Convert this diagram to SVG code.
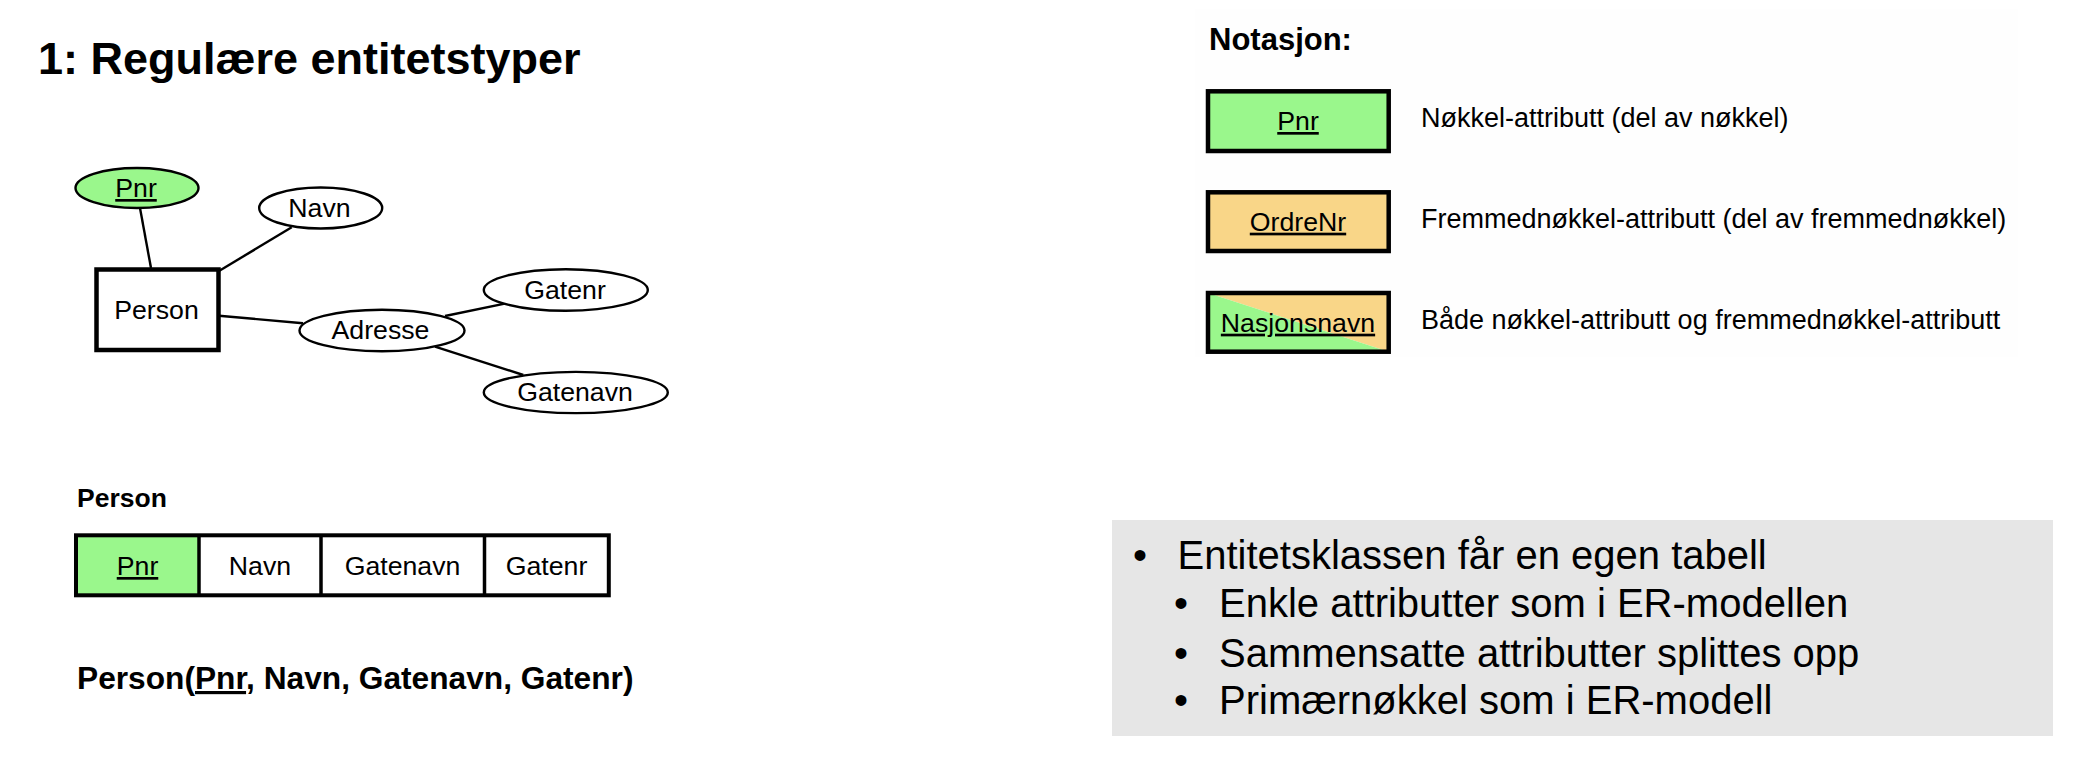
<svg xmlns="http://www.w3.org/2000/svg" width="2080" height="758" viewBox="0 0 2080 758">
<style>
text { font-family: "Liberation Sans", Arial, Helvetica, sans-serif; fill: #000; }
.t { font-size: 26.7px; text-anchor: middle; }
.b { font-weight: bold; }
.u { text-decoration: underline; }
.desc { font-size: 27px; }
.bul { font-size: 40px; }
.attr { fill: #fff; stroke: #000; stroke-width: 2.4; }
.key { fill: #9af78c; }
.fk { fill: #f9d688; }
.ent { fill: #fff; stroke: #000; stroke-width: 4.5; }
.conn line { stroke: #000; stroke-width: 2.4; }
.box { fill: none; stroke: #000; stroke-width: 4.5; }
</style>
<rect x="0" y="0" width="2080" height="758" fill="#fff"/>

<text x="38" y="74" class="b" font-size="45">1: Regulære entitetstyper</text>

<g id="connectors" class="conn">
  <line x1="140" y1="208" x2="151" y2="268"/>
  <line x1="291.7" y1="227.3" x2="219" y2="271"/>
  <line x1="219" y1="315.7" x2="303" y2="323.3"/>
  <line x1="445" y1="316" x2="506" y2="303.3"/>
  <line x1="435" y1="346.7" x2="523.3" y2="375"/>
</g>

<g id="pnr">
  <ellipse cx="137" cy="188" rx="61.5" ry="20" class="attr key"/>
  <text x="136" y="197" class="t u">Pnr</text>
</g>
<g id="navn">
  <ellipse cx="320.7" cy="208" rx="61.5" ry="20.5" class="attr"/>
  <text x="319.5" y="216.5" class="t">Navn</text>
</g>
<g id="person">
  <rect x="96.5" y="269.5" width="122" height="80.5" class="ent"/>
  <text x="156.5" y="319" class="t">Person</text>
</g>
<g id="adresse">
  <ellipse cx="382" cy="330.5" rx="82.5" ry="20.8" class="attr"/>
  <text x="380.5" y="339" class="t">Adresse</text>
</g>
<g id="gatenr">
  <ellipse cx="565.8" cy="290" rx="82" ry="20.8" class="attr"/>
  <text x="565" y="298.5" class="t">Gatenr</text>
</g>
<g id="gatenavn">
  <ellipse cx="575.8" cy="392.5" rx="92" ry="20.6" class="attr"/>
  <text x="575" y="401" class="t">Gatenavn</text>
</g>

<g id="table">
  <text x="77" y="507" class="b" font-size="26.5">Person</text>
  <rect x="76" y="535.3" width="123" height="60" class="key"/>
  <rect x="76" y="535.3" width="532.8" height="60" fill="none" stroke="#000" stroke-width="4"/>
  <line x1="199" y1="535.3" x2="199" y2="595.3" stroke="#000" stroke-width="3.5"/>
  <line x1="321" y1="535.3" x2="321" y2="595.3" stroke="#000" stroke-width="3.5"/>
  <line x1="484.5" y1="535.3" x2="484.5" y2="595.3" stroke="#000" stroke-width="3.5"/>
  <text x="137.5" y="575" class="t u">Pnr</text>
  <text x="260" y="575" class="t">Navn</text>
  <text x="402.5" y="575" class="t">Gatenavn</text>
  <text x="546.5" y="575" class="t">Gatenr</text>
</g>

<text x="77" y="689" class="b" font-size="31.7">Person(<tspan class="u">Pnr</tspan>, Navn, Gatenavn, Gatenr)</text>

<g id="notasjon">
  <rect x="1195" y="9" width="823" height="348" fill="#fefefe"/>
  <text x="1209" y="50" class="b" font-size="31">Notasjon:</text>
  <g id="legend-key">
    <rect x="1208" y="91.3" width="180.7" height="59.7" class="key"/>
    <rect x="1208" y="91.3" width="180.7" height="59.7" class="box"/>
    <text x="1298" y="130" class="t u">Pnr</text>
    <text x="1421" y="127" class="desc">Nøkkel-attributt (del av nøkkel)</text>
  </g>
  <g id="legend-fk">
    <rect x="1208" y="192.3" width="180.7" height="58.7" class="fk"/>
    <rect x="1208" y="192.3" width="180.7" height="58.7" class="box"/>
    <text x="1298" y="230.7" class="t u">OrdreNr</text>
    <text x="1421" y="228" class="desc">Fremmednøkkel-attributt (del av fremmednøkkel)</text>
  </g>
  <g id="legend-both">
    <polygon points="1208,293 1388.7,293 1388.7,351.7" class="fk"/>
    <polygon points="1208,293 1388.7,351.7 1208,351.7" class="key"/>
    <rect x="1208" y="293" width="180.7" height="58.7" class="box"/>
    <text x="1298" y="331.7" class="t u">Nasjonsnavn</text>
    <text x="1421" y="328.5" class="desc">Både nøkkel-attributt og fremmednøkkel-attributt</text>
  </g>
</g>

<g id="bullets">
  <rect x="1112" y="520" width="941" height="216" fill="#e6e6e6"/>
  <text x="1133" y="569" class="bul">•</text>
  <text x="1177.5" y="569" class="bul">Entitetsklassen får en egen tabell</text>
  <text x="1174" y="617.3" class="bul">•</text>
  <text x="1219" y="617.3" class="bul">Enkle attributter som i ER-modellen</text>
  <text x="1174" y="666.7" class="bul">•</text>
  <text x="1219" y="666.7" class="bul">Sammensatte attributter splittes opp</text>
  <text x="1174" y="714.3" class="bul">•</text>
  <text x="1219" y="714.3" class="bul">Primærnøkkel som i ER-modell</text>
</g>
</svg>
